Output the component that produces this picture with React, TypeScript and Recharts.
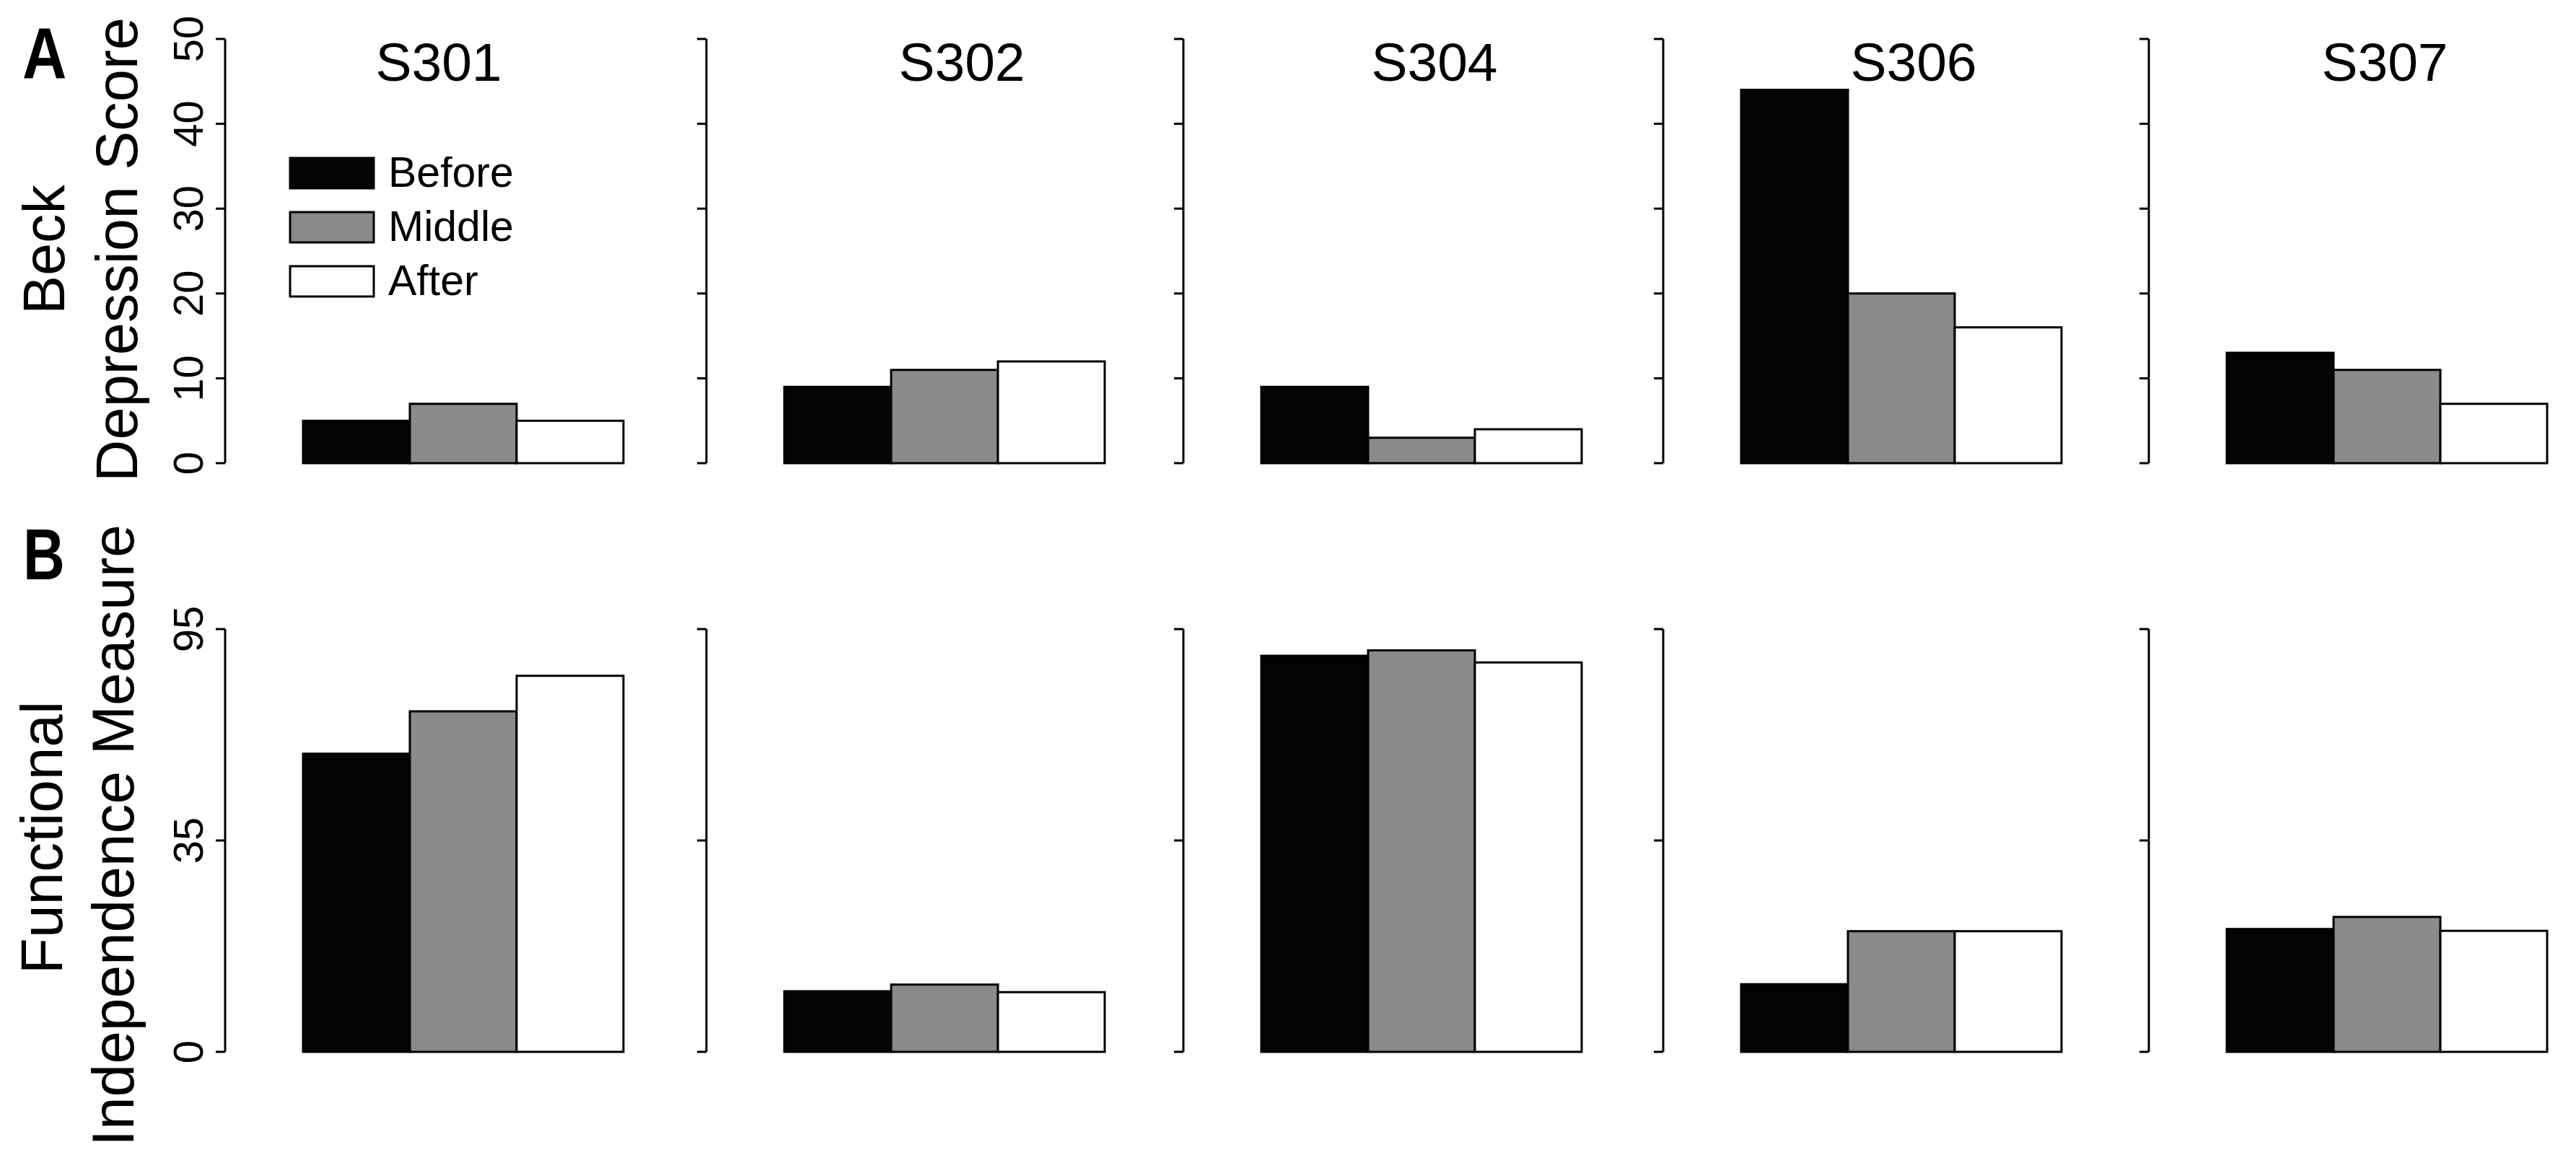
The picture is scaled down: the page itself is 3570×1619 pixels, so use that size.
import { BarChart, Bar, XAxis, YAxis, Legend } from 'recharts';

const subjects = ['S301', 'S302', 'S304', 'S306', 'S307'];
const conditions = ['Before', 'Middle', 'After'];
const conditionKeys = ['before', 'middle', 'after'];
const conditionColors = ['#030504', '#898a89', '#ffffff'];

// Beck Depression Score (panel A)
const beckBefore = [5, 9, 9, 44, 13];
const beckMiddle = [7, 11, 3, 20, 11];
const beckAfter = [5, 12, 4, 16, 7];
const beckTicks = [0, 10, 20, 30, 40, 50];

// Functional Independence Measure (panel B)
const fimBefore = [67, 13.6, 89, 15.2, 27.6];
const fimMiddle = [76.5, 15.1, 90.2, 27.1, 30.3];
const fimAfter = [84.5, 13.4, 87.5, 27.1, 27.2];
const fimTickValues = [0, 47.5, 95];
const fimTickLabels = ['0', '35', '95'];

const FONT = '"Liberation Sans", Arial, Helvetica, sans-serif';

// layout (page pixels)
const axisX = [312, 979, 1640, 2305, 2978];
const titleX = [608, 1333, 1988, 2652, 3305];
const Y_AXIS_W = 100;
const PLOT_W = 660;
const M = 45;

function rowFor(i: number, b: number[], m: number[], a: number[]) {
  return [{ subject: subjects[i], before: b[i], middle: m[i], after: a[i] }];
}

const makeTick = (show: boolean, labelOf: (v: number) => string) => (props: any) => {
  if (!show) return <g />;
  const { x, y, payload } = props;
  const tx = x - 16;
  return (
    <text
      x={tx}
      y={y}
      transform={`rotate(-90 ${tx} ${y})`}
      textAnchor="middle"
      fontSize={58}
      fontFamily={FONT}
      fill="#000"
    >
      {labelOf(payload.value)}
    </text>
  );
};

const LegendBoxes = () => (
  <svg width={380} height={220}>
    {conditions.map((c, i) => (
      <g key={c}>
        <rect x={2} y={2 + i * 75} width={116} height={42} fill={conditionColors[i]} stroke="#000" strokeWidth={3} />
        <text x={138} y={42 + i * 75} fontSize={59} fontFamily={FONT} fill="#000">
          {c}
        </text>
      </g>
    ))}
  </svg>
);

interface PanelProps {
  index: number;
  data: any[];
  domain: [number, number];
  ticks: number[];
  labelOf: (v: number) => string;
  plotTop: number;
  plotHeight: number;
  legend?: boolean;
}

const Panel = ({ index, data, domain, ticks, labelOf, plotTop, plotHeight, legend }: PanelProps) => (
  <div style={{ position: 'absolute', left: axisX[index] - Y_AXIS_W, top: plotTop - M }}>
    <BarChart
      width={Y_AXIS_W + PLOT_W}
      height={plotHeight + 2 * M}
      data={data}
      margin={{ top: M, right: 0, bottom: M, left: 0 }}
      barGap={0}
      barSize={148}
    >
      <XAxis dataKey="subject" hide />
      <YAxis
        domain={domain}
        ticks={ticks}
        interval={0}
        width={Y_AXIS_W}
        tickSize={13}
        axisLine={{ stroke: '#000', strokeWidth: 3 }}
        tickLine={{ stroke: '#000', strokeWidth: 3 }}
        tick={makeTick(index === 0, labelOf)}
      />
      {legend && (
        <Legend
          layout="vertical"
          align="center"
          verticalAlign="middle"
          content={() => <LegendBoxes />}
          wrapperStyle={{ left: 188, top: 168 + M - 5, width: 380 }}
        />
      )}
      {conditionKeys.map((k, i) => (
        <Bar
          key={k}
          dataKey={k}
          name={conditions[i]}
          fill={conditionColors[i]}
          stroke="#000"
          strokeWidth={3}
          isAnimationActive={false}
        />
      ))}
    </BarChart>
  </div>
);

const rotated = (text: string, x: number, y: number, size: number) => (
  <text
    x={x}
    y={y}
    transform={`rotate(-90 ${x} ${y})`}
    textAnchor="middle"
    fontSize={size}
    fontFamily={FONT}
    fill="#000"
  >
    {text}
  </text>
);

export default function App() {
  return (
    <div style={{ position: 'absolute', left: 0, top: 0, width: 3570, height: 1619, background: '#fff', overflow: 'hidden' }}>
      {subjects.map((s, i) => (
        <Panel
          key={'a' + s}
          index={i}
          data={rowFor(i, beckBefore, beckMiddle, beckAfter)}
          domain={[0, 50]}
          ticks={beckTicks}
          labelOf={(v) => String(v)}
          plotTop={54}
          plotHeight={588}
          legend={i === 0}
        />
      ))}
      {subjects.map((s, i) => (
        <Panel
          key={'b' + s}
          index={i}
          data={rowFor(i, fimBefore, fimMiddle, fimAfter)}
          domain={[0, 95]}
          ticks={fimTickValues}
          labelOf={(v) => fimTickLabels[fimTickValues.indexOf(v)]}
          plotTop={872}
          plotHeight={586}
        />
      ))}
      <svg width={3570} height={1619} style={{ position: 'absolute', left: 0, top: 0, pointerEvents: 'none' }}>
        <text transform="translate(31 109) scale(0.85 1)" fontSize={100} fontWeight="bold" fontFamily={FONT} fill="#000">A</text>
        <text transform="translate(32 803) scale(0.8 1)" fontSize={100} fontWeight="bold" fontFamily={FONT} fill="#000">B</text>
        {subjects.map((s, i) => (
          <text key={s} x={titleX[i]} y={112} textAnchor="middle" fontSize={75} fontFamily={FONT} fill="#000">
            {s}
          </text>
        ))}
        {rotated('Beck', 89, 346, 81)}
        {rotated('Depression Score', 190, 346, 81)}
        {rotated('Functional', 86, 1161, 82)}
        {rotated('Independence Measure', 185, 1158, 82)}
      </svg>
    </div>
  );
}
